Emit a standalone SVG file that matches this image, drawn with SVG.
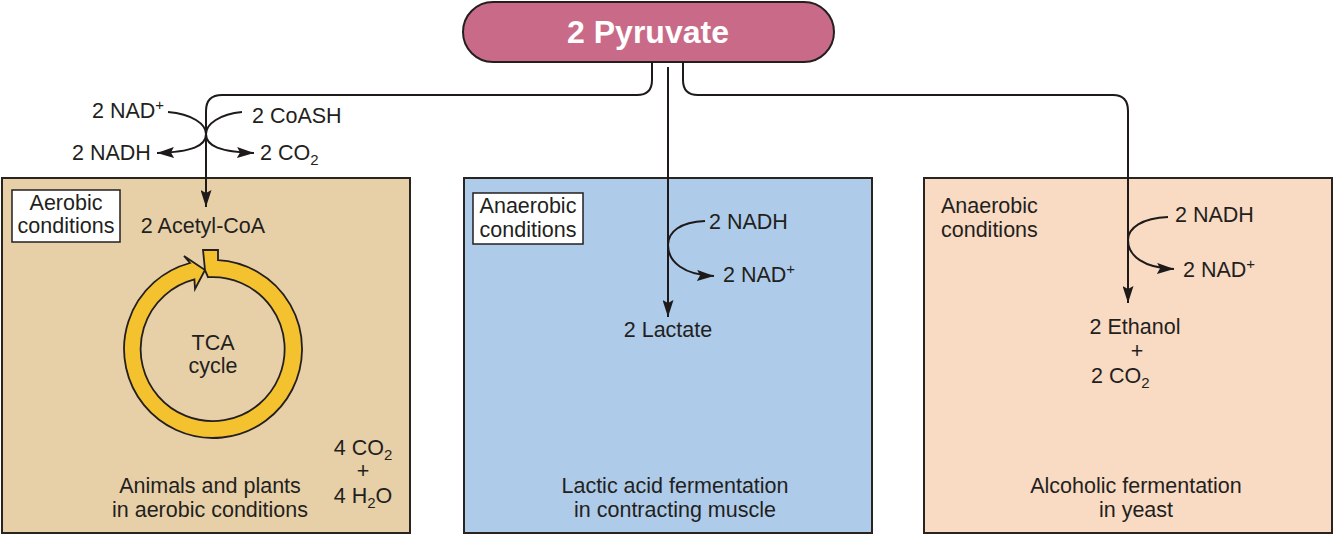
<svg xmlns="http://www.w3.org/2000/svg" width="1334" height="535" viewBox="0 0 1334 535">
<defs>
<marker id="ah" markerUnits="userSpaceOnUse" markerWidth="17" markerHeight="11" refX="17" refY="5.5" orient="auto" viewBox="0 0 17 11">
<path d="M0,0 L17,5.5 L0,11 L3,5.5 z" fill="#1e1a1a"/>
</marker>
<style>
text{font-family:"Liberation Sans",Arial,sans-serif;font-size:21.5px;fill:#231f20}
.c{text-anchor:middle}
.box{stroke:#2a2420;stroke-width:2}
.lab{fill:#fff;stroke:#231f20;stroke-width:1.5}
.ln{fill:none;stroke:#1e1a1a;stroke-width:2}
.sub{font-size:15px}
</style>
</defs>
<rect width="1334" height="535" fill="#fff"/>

<g id="pyruvate">
<rect x="463" y="2" width="371" height="60" rx="30" fill="#c96b88" stroke="#231f20" stroke-width="2"/>
<text x="648" y="43" class="c" style="font-size:32px;font-weight:bold;fill:#fff">2 Pyruvate</text>
</g>

<g id="aerobic">
<rect class="box" x="2" y="178" width="408" height="355" fill="#e7d0a8"/>
<rect class="lab" x="12" y="190" width="108" height="52"/>
<text x="66" y="210" class="c">Aerobic</text>
<text x="66" y="233" class="c">conditions</text>
<text x="203" y="233" class="c">2 Acetyl-CoA</text>
<path d="M203 250 L218 250 L218 260.1 A89 89 0 1 1 190 263 L184 256 L205 270 L195 289 L194.4 279.4 A72 72 0 1 0 208 277.2 L205 270 L203 250 Z" fill="#f3c22e" stroke="#231f20" stroke-width="1.8" stroke-linejoin="miter"/>
<text x="213" y="350" class="c">TCA</text>
<text x="213" y="373" class="c">cycle</text>
<text x="363" y="455" class="c">4 CO<tspan class="sub" dy="5">2</tspan></text>
<text x="363" y="478" class="c">+</text>
<text x="363" y="503" class="c">4 H<tspan class="sub" dy="5">2</tspan><tspan dy="-5">O</tspan></text>
<text x="210" y="493" class="c">Animals and plants</text>
<text x="210" y="517" class="c">in aerobic conditions</text>
</g>

<g id="lactic">
<rect class="box" x="464" y="178" width="408" height="355" fill="#aecbe9"/>
<rect class="lab" x="473" y="193" width="110" height="51"/>
<text x="528" y="213" class="c">Anaerobic</text>
<text x="528" y="237" class="c">conditions</text>
<text x="709" y="229">2 NADH</text>
<text x="723" y="282">2 NAD<tspan class="sub" dy="-8">+</tspan></text>
<text x="668" y="337" class="c">2 Lactate</text>
<text x="675" y="493" class="c">Lactic acid fermentation</text>
<text x="675" y="517" class="c">in contracting muscle</text>
</g>

<g id="alcoholic">
<rect class="box" x="924" y="178" width="408" height="355" fill="#f9dac3"/>
<text x="941" y="213">Anaerobic</text>
<text x="941" y="237">conditions</text>
<text x="1175" y="222">2 NADH</text>
<text x="1183" y="277">2 NAD<tspan class="sub" dy="-8">+</tspan></text>
<text x="1135" y="334" class="c">2 Ethanol</text>
<text x="1137" y="358" class="c">+</text>
<text x="1091" y="383">2 CO<tspan class="sub" dy="5">2</tspan></text>
<text x="1136" y="493" class="c">Alcoholic fermentation</text>
<text x="1136" y="517" class="c">in yeast</text>
</g>

<g id="cofactors">
<text x="92" y="118">2 NAD<tspan class="sub" dy="-8">+</tspan></text>
<text x="252" y="123">2 CoASH</text>
<text x="72" y="160">2 NADH</text>
<text x="260" y="160">2 CO<tspan class="sub" dy="5">2</tspan></text>
</g>

<g id="connectors">
<path class="ln" marker-end="url(#ah)" d="M652 62 L652 80 Q652 95 637 95 L222 95 Q206 95 206 111 L206 207"/>
<path class="ln" marker-end="url(#ah)" d="M668 67 L668 317"/>
<path class="ln" marker-end="url(#ah)" d="M683 62 L683 80 Q683 95 698 95 L1113 95 Q1128 95 1128 111 L1128 303"/>
<path class="ln" marker-end="url(#ah)" d="M168 112 C192 114 206 124 206 134 C206 146 192 152 157 153"/>
<path class="ln" marker-end="url(#ah)" d="M242 112 C220 114 206 124 206 134 C206 146 220 152 254 153"/>
<path class="ln" marker-end="url(#ah)" d="M705 221 C680 222 668 232 668 245 C668 262 684 275 714 276"/>
<path class="ln" marker-end="url(#ah)" d="M1168 217 C1142 218 1128 228 1128 240 C1128 256 1144 268 1174 269"/>
</g>
</svg>
